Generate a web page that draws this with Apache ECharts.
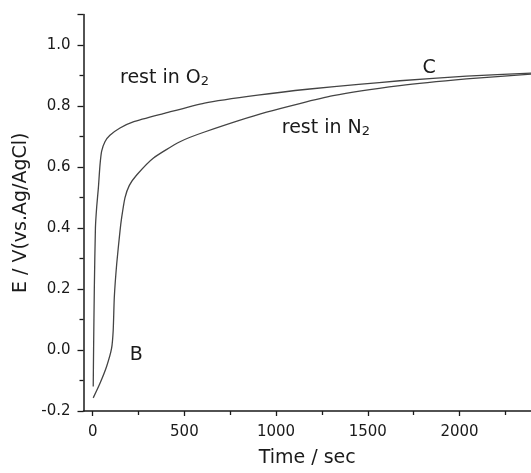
<!DOCTYPE html>
<html>
<head>
<meta charset="utf-8">
<script src="https://cdn.jsdelivr.net/npm/echarts@6/dist/echarts.min.js"></script>
<style>
  html, body { margin: 0; padding: 0; background: #fff; }
  #chart { width: 531px; height: 473px; }
</style>
</head>
<body>
<div id="chart"></div>
<script>
// Open-circuit potential recovery after resting in O2 and in N2
// [time (s), E (V vs. Ag/AgCl)]
const restO2 = [
  [3, -0.12], [5, 0.0], [9, 0.2], [15, 0.4], [22, 0.47], [31, 0.531],
  [40, 0.607], [49, 0.652], [67, 0.683], [94, 0.704], [149, 0.728],
  [221, 0.748], [385, 0.775], [610, 0.81], [900, 0.836], [1184, 0.856],
  [1450, 0.871], [1675, 0.883], [2038, 0.898], [2390, 0.908]
];
const restN2 = [
  [3, -0.157], [40, -0.109], [76, -0.054], [103, 0.005], [112, 0.065],
  [118, 0.173], [131, 0.282], [149, 0.39], [158, 0.434], [176, 0.499],
  [200, 0.54], [240, 0.574], [330, 0.629], [476, 0.683], [610, 0.715],
  [948, 0.78], [1311, 0.834], [1675, 0.867], [2038, 0.889], [2390, 0.905]
];

// axis ranges and tick positions
const xRange = [-50, 2390];
const xMajorTicks = [0, 500, 1000, 1500, 2000];
const xMinorTicks = [250, 750, 1250, 1750, 2250];
const yRange = [-0.2, 1.1];
const yStep = 0.2;
const yMinorTicks = [-0.1, 0.1, 0.3, 0.5, 0.7, 0.9];

// annotation texts anchored in data coordinates
const notes = [
  { at: [149, 0.915], text: '{a|rest in O}{s|2}', align: 'left' },
  { at: [1031, 0.752], text: '{a|rest in N}{s|2}', align: 'left' },
  { at: [1834, 0.950], text: '{a|C}', align: 'center' },
  { at: [238, 0.009], text: '{a|B}', align: 'center' }
];

const FONT = 'DejaVu Sans';
const INK = '#1a1a1a';
const LINE = '#444';

const chart = echarts.init(document.getElementById('chart'), null, { renderer: 'canvas' });

const lineSeries = (name, data) => ({
  name, type: 'line', data, xAxisIndex: 0, yAxisIndex: 0,
  showSymbol: false, symbol: 'none',
  smooth: 0.2,
  lineStyle: { color: LINE, width: 1.3 },
  silent: true, animation: false
});

const tickStyle = { color: INK, width: 1.3 };
const plainText = { color: INK, fontFamily: FONT, textBorderWidth: 0, textBorderColor: 'transparent' };

chart.setOption({
  animation: false,
  backgroundColor: '#fff',
  grid: { left: 83.5, right: 0, top: 14.6, bottom: 58.7, containLabel: false },
  xAxis: [
    {
      type: 'value', min: xRange[0], max: xRange[1],
      name: 'Time / sec', nameLocation: 'middle', nameGap: 38,
      nameTextStyle: { fontFamily: FONT, fontSize: 19, color: INK },
      axisLine: { show: true, onZero: false, lineStyle: { color: INK, width: 1.5 } },
      axisTick: { show: true, inside: false, length: 5, customValues: xMajorTicks, lineStyle: tickStyle },
      axisLabel: {
        customValues: xMajorTicks, margin: 14, fontFamily: FONT, fontSize: 15, color: INK,
        formatter: v => String(Math.round(v))
      },
      splitLine: { show: false }
    },
    {
      type: 'value', min: xRange[0], max: xRange[1], position: 'bottom',
      axisLine: { show: false, onZero: false },
      axisTick: { show: true, inside: false, length: 4, customValues: xMinorTicks, lineStyle: tickStyle },
      axisLabel: { show: false },
      splitLine: { show: false }
    }
  ],
  yAxis: [
    {
      type: 'value', min: yRange[0], max: yRange[1], interval: yStep,
      name: 'E / V(vs.Ag/AgCl)', nameLocation: 'middle', nameGap: 53,
      nameTextStyle: { fontFamily: FONT, fontSize: 19, color: INK },
      axisLine: { show: true, onZero: false, lineStyle: { color: INK, width: 1.5 } },
      axisTick: { show: true, inside: false, length: 6, lineStyle: tickStyle },
      axisLabel: {
        margin: 13, fontFamily: FONT, fontSize: 15, color: INK,
        formatter: v => (v > 1.05 ? '' : v.toFixed(1))
      },
      splitLine: { show: false }
    },
    {
      type: 'value', min: yRange[0], max: yRange[1], position: 'left',
      axisLine: { show: false, onZero: false },
      axisTick: { show: true, inside: false, length: 4, customValues: yMinorTicks, lineStyle: tickStyle },
      axisLabel: { show: false },
      splitLine: { show: false }
    }
  ],
  series: [
    lineSeries('rest in O2', restO2),
    lineSeries('rest in N2', restN2),
    {
      name: 'notes', type: 'scatter', symbolSize: 0, silent: true,
      xAxisIndex: 0, yAxisIndex: 0,
      itemStyle: { color: INK, opacity: 1 },
      data: notes.map(n => ({
        value: n.at,
        label: Object.assign({
          show: true, position: 'inside', align: n.align, verticalAlign: 'middle',
          fontSize: 19, formatter: n.text,
          rich: {
            a: Object.assign({ fontSize: 19, lineHeight: 34, verticalAlign: 'bottom' }, plainText),
            s: Object.assign({ fontSize: 13, lineHeight: 11, verticalAlign: 'bottom' }, plainText)
          }
        }, plainText)
      }))
    }
  ]
});
</script>
</body>
</html>
